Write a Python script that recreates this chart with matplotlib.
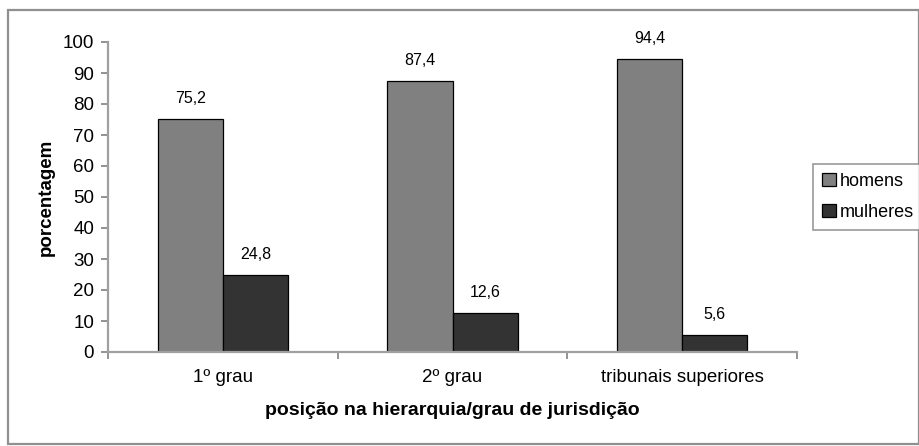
import matplotlib
matplotlib.use("Agg")
import matplotlib.pyplot as plt
from matplotlib.patches import Rectangle
import numpy as np

plt.rcParams['font.family'] = ['Liberation Sans', 'DejaVu Sans']

categories = ["1º grau", "2º grau", "tribunais superiores"]
homens = [75.2, 87.4, 94.4]
mulheres = [24.8, 12.6, 5.6]
value_labels_h = ["75,2", "87,4", "94,4"]
value_labels_m = ["24,8", "12,6", "5,6"]

W, H = 919, 446
fig = plt.figure(figsize=(W / 100, H / 100), dpi=100)

# chart area border
fig.patches.append(Rectangle((8 / W, 1 - 444 / H), 911 / W, 434 / H,
                             transform=fig.transFigure, fill=False,
                             edgecolor="#909090", linewidth=1.6))

left, right, top, bottom = 108, 797, 42, 352
ax = fig.add_axes([left / W, 1 - bottom / H, (right - left) / W, (bottom - top) / H])

x = np.arange(len(categories))
w = 1 / 3.5 * 0.995
c_h = "#808080"
c_m = "#333333"
ax.bar(x - w / 2, homens, w, color=c_h, edgecolor="black", linewidth=0.9, label="homens")
ax.bar(x + w / 2, mulheres, w, color=c_m, edgecolor="black", linewidth=0.9, label="mulheres")

for xi, v, t in zip(x - w / 2, homens, value_labels_h):
    ax.text(xi, v + 5.2, t, ha="center", va="baseline", fontsize=11.5)
for xi, v, t in zip(x + w / 2, mulheres, value_labels_m):
    ax.text(xi, v + 5.2, t, ha="center", va="baseline", fontsize=11.5)

ax.set_xlim(-0.5, len(categories) - 0.5)
ax.set_ylim(0, 100)
ax.set_yticks(range(0, 101, 10))
ax.set_xticks(x)
ax.set_xticklabels(categories, fontsize=13.5)
ax.tick_params(axis="x", length=0, pad=12)
ax.set_xticks(np.arange(-0.5, len(categories)), minor=True)
ax.tick_params(axis="x", which="minor", length=5, color="#808080", width=1.2, direction="out")
ax.tick_params(axis="y", length=5, color="#808080", width=1.2, labelsize=13.5, pad=5)

for s in ("top", "right"):
    ax.spines[s].set_visible(False)
for s in ("left", "bottom"):
    ax.spines[s].set_color("#a0a0a0")
    ax.spines[s].set_linewidth(1.6)

ax.set_ylabel("porcentagem", fontsize=13.5, fontweight="bold", labelpad=6)
ax.set_xlabel("posição na hierarquia/grau de jurisdição", fontsize=14,
              fontweight="bold", labelpad=12)

leg = fig.legend(loc="upper left", bbox_to_anchor=(813 / W, 1 - 164 / H),
                 fontsize=13, frameon=True, fancybox=False, handlelength=0.75,
                 handleheight=0.75, handletextpad=0.25, borderpad=0.5,
                 labelspacing=0.75, borderaxespad=0)
leg.get_frame().set_edgecolor("#808080")
leg.get_frame().set_linewidth(1.2)

fig.savefig("out.png", dpi=100)
